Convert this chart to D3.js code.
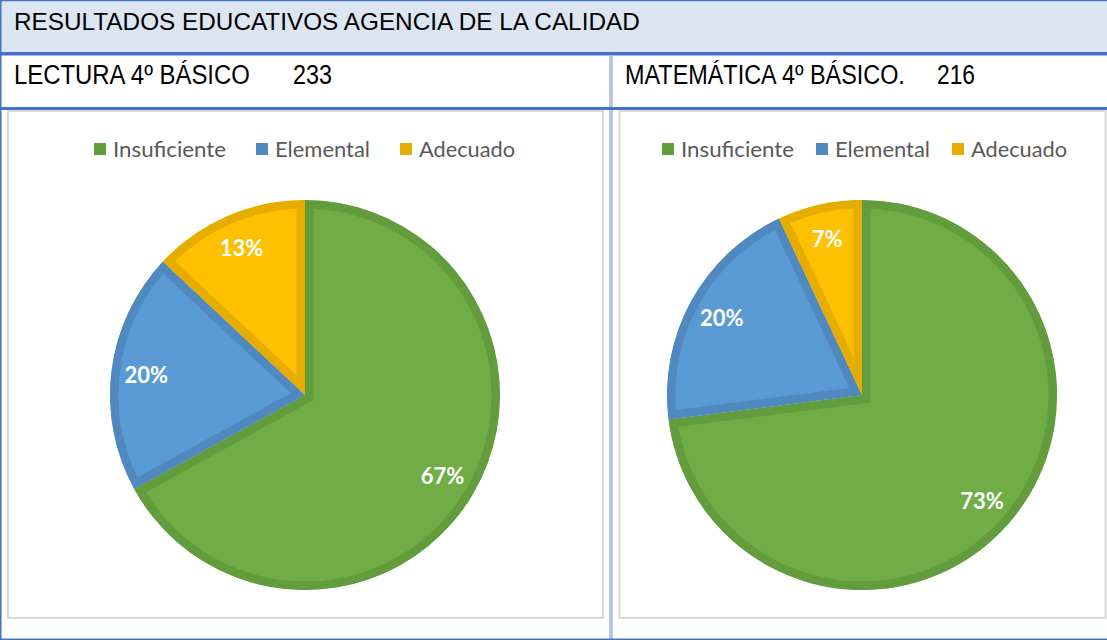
<!DOCTYPE html>
<html>
<head>
<meta charset="utf-8">
<script src="https://cdn.jsdelivr.net/npm/d3@7"></script>
<style>
  html, body { margin: 0; padding: 0; background: #ffffff; }
  svg { display: block; }
</style>
</head>
<body>
<svg id="chart" width="1107" height="640"></svg>
<script>
// ---- Data ----
const categories = ["Insuficiente", "Elemental", "Adecuado"];
const lecturaValues = [67, 20, 13];
const matematicaValues = [73, 20, 7];
const pageTitle = "RESULTADOS EDUCATIVOS AGENCIA DE LA CALIDAD";
const panelTitles = ["LECTURA 4º BÁSICO", "MATEMÁTICA 4º BÁSICO."];
const panelScores = ["233", "216"];

// ---- Styles ----
const fillColors = ["#70ad47", "#5b9bd5", "#ffc000"];
const edgeColors = ["#629c3c", "#4f89c0", "#e6ad00"];
const tableBlue = "#4472c4";
const dividerBlue = "#b4c7e7";
const headerFill = "#dce6f2";
const narrowFont = "'Liberation Sans Narrow', 'Arial Narrow', 'Liberation Sans', Arial, sans-serif";
const chartFont = "Lato, 'Open Sans', 'Noto Sans', sans-serif";

const svg = d3.select("#chart");
const W = 1107, H = 640;

// Draws a text squeezed horizontally to a given width (condensed look).
function condensedText(x, y, size, width, str) {
  const t = svg.append("text")
    .attr("font-family", narrowFont).attr("font-size", size)
    .attr("fill", "#000").text(str);
  const natural = t.node().getComputedTextLength();
  t.attr("transform", `translate(${x},${y}) scale(${width / natural},1)`);
  return t;
}

// ---- Table frame ----
svg.append("rect").attr("x", 0).attr("y", 0).attr("width", W).attr("height", 52).attr("fill", headerFill);
svg.append("rect").attr("x", 0).attr("y", 0).attr("width", W).attr("height", 1.2).attr("fill", tableBlue);
svg.append("rect").attr("x", 0).attr("y", 52).attr("width", W).attr("height", 3.5).attr("fill", tableBlue);
svg.append("rect").attr("x", 609).attr("y", 55.5).attr("width", 4).attr("height", H - 55.5).attr("fill", dividerBlue);
svg.append("rect").attr("x", 0).attr("y", 107).attr("width", W).attr("height", 3).attr("fill", tableBlue);
svg.append("rect").attr("x", 0).attr("y", 0).attr("width", 1.5).attr("height", H).attr("fill", tableBlue);
svg.append("rect").attr("x", 0).attr("y", 638.5).attr("width", W).attr("height", 1.5).attr("fill", tableBlue);

// Header title
condensedText(14, 29.5, 24.5, 626, pageTitle);

const panels = [
  { values: lecturaValues, title: panelTitles[0], score: panelScores[0],
    titleX: 14, titleW: 236, scoreX: 293, scoreW: 39,
    box: { x: 8, y: 111, w: 595, h: 507 }, cx: 305, legendStart: 94 },
  { values: matematicaValues, title: panelTitles[1], score: panelScores[1],
    titleX: 625, titleW: 280, scoreX: 937, scoreW: 38,
    box: { x: 619.5, y: 111, w: 486, h: 507 }, cx: 862, legendStart: 662 }
];

const radius = 195;
const cy = 395;

panels.forEach((p, pi) => {
  // Subject and score
  condensedText(p.titleX, 83.5, 28, p.titleW, p.title);
  condensedText(p.scoreX, 83.5, 28, p.scoreW, p.score);

  // Chart frame
  svg.append("rect")
    .attr("x", p.box.x).attr("y", p.box.y).attr("width", p.box.w).attr("height", p.box.h)
    .attr("fill", "#ffffff").attr("stroke", "#d9d9d9").attr("stroke-width", 2);

  // Legend
  const legendWidths = [113, 95, 96];
  let lx = p.legendStart;
  const lg = svg.append("g").attr("font-family", chartFont);
  categories.forEach((c, i) => {
    lg.append("rect").attr("x", lx).attr("y", 143).attr("width", 12).attr("height", 12)
      .attr("fill", edgeColors[i]);
    lg.append("text").attr("x", lx + 19).attr("y", 149).attr("dy", "0.36em")
      .attr("font-size", 21).attr("fill", "#595959")
      .attr("textLength", legendWidths[i]).attr("lengthAdjust", "spacingAndGlyphs")
      .text(c);
    lx += 19 + legendWidths[i] + (pi === 0 ? 30 : 22);
  });

  // Pie, clockwise from 12 o'clock, each slice with an inner darker rim
  const pie = d3.pie().sort(null).value(d => d.value);
  const arcs = pie(categories.map((c, i) => ({ name: c, value: p.values[i], idx: i })));
  const arc = d3.arc().innerRadius(0).outerRadius(radius);
  const labelArc = d3.arc().innerRadius(radius * 0.82).outerRadius(radius * 0.82);

  const g = svg.append("g").attr("transform", `translate(${p.cx},${cy})`);
  const defs = svg.append("defs");

  arcs.forEach((a, i) => {
    const id = `clip-${pi}-${i}`;
    defs.append("clipPath").attr("id", id).append("path").attr("d", arc(a));
    g.append("path")
      .attr("d", arc(a))
      .attr("fill", fillColors[a.data.idx])
      .attr("stroke", edgeColors[a.data.idx])
      .attr("stroke-width", 17)
      .attr("stroke-linejoin", "miter")
      .attr("clip-path", `url(#${id})`);
  });

  g.selectAll("text.pct")
    .data(arcs)
    .join("text")
    .attr("class", "pct")
    .attr("transform", d => `translate(${labelArc.centroid(d)})`)
    .attr("text-anchor", "middle")
    .attr("dy", "0.36em")
    .attr("font-family", chartFont)
    .attr("font-weight", "bold")
    .attr("font-size", 22)
    .attr("fill", "#ffffff")
    .text(d => `${d.data.value}%`);
});
</script>
</body>
</html>
